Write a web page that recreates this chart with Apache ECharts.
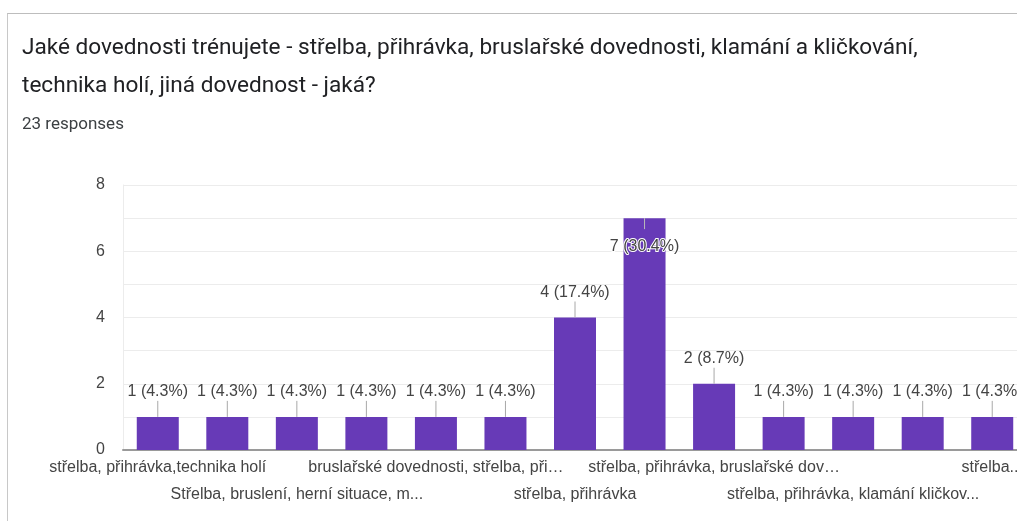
<!DOCTYPE html>
<html lang="cs">
<head>
<meta charset="utf-8">
<title>Jaké dovednosti trénujete</title>
<script src="https://cdn.jsdelivr.net/npm/echarts@6/dist/echarts.min.js"></script>
<style>
  html, body { margin: 0; padding: 0; background: #fff; overflow: hidden; }
  body { width: 1017px; height: 521px; position: relative; }
  #card {
    position: absolute; left: 7px; top: 13px; width: 1100px; height: 600px;
    border-left: 1px solid #c8c8c8; border-top: 1px solid #bdbdbd;
    box-sizing: border-box;
  }
  #chart { position: absolute; left: 0; top: 0; width: 1027px; height: 521px; }
</style>
</head>
<body>
<div id="card"></div>
<div id="chart"></div>
<script>
// Answers to the question, in the order the form lists them
const categories = [
  'střelba, přihrávka,technika holí',
  'střelba, technika holí',
  'Střelba, bruslení, herní situace, m...',
  'přihrávka, technika holí',
  'bruslařské dovednosti, střelba, při…',
  'střelba, bruslařské dovednosti',
  'střelba, přihrávka',
  'střelba, přihrávka, bruslařské dovednosti, klamání a kličkování, technika holí',
  'střelba, přihrávka, bruslařské dov…',
  'střelba, přihrávka, technika holí',
  'střelba, přihrávka, klamání kličkov...',
  'střelba, klamání a kličkování',
  'střelba...'
];
const responses = [1, 1, 1, 1, 1, 1, 4, 7, 2, 1, 1, 1, 1];
const yTicks = [0, 2, 4, 6, 8];

const titleText = 'Jaké dovednosti trénujete - střelba, přihrávka, bruslařské dovednosti, klamání a kličkování,\ntechnika holí, jiná dovednost - jaká?';
const subtitleText = '23 responses';

const total = responses.reduce((a, b) => a + b, 0);
const yMax = yTicks[yTicks.length - 1];
const barColor = '#673ab7';
const labelFont = { fontFamily: 'Liberation Sans, Arial, sans-serif', fontSize: 16, color: '#444' };

const labelText = v => v + ' (' + (Math.round(v / total * 1000) / 10) + '%)';

// Bars that reach the top of the scale carry their label inside
const barData = responses.map(v => {
  const inside = v > yMax - 1.5;
  return {
    value: v,
    label: inside
      ? { position: 'insideTop', distance: 19, textBorderColor: '#fff', textBorderWidth: 2 }
      : { position: 'top', distance: 16 }
  };
});

// Category labels alternate between two rows, every other category labelled
const rowAxis = (row) => ({
  type: 'category',
  data: categories,
  position: 'bottom',
  axisTick: { show: false },
  axisLine: row === 0
    ? { show: true, lineStyle: { color: '#9a9a9a', width: 2 } }
    : { show: false },
  splitLine: { show: false },
  axisLabel: {
    interval: (index) => index % 4 === row * 2,
    margin: row === 0 ? 9 : 36,
    lineHeight: 18,
    hideOverlap: false,
    ...labelFont
  }
});

const chart = echarts.init(document.getElementById('chart'), null, { renderer: 'canvas' });

chart.setOption({
  animation: false,
  title: [
    {
      text: titleText, left: 22, top: 29, padding: 0,
      textStyle: { fontFamily: 'Roboto, sans-serif', fontSize: 22.6, fontWeight: 'normal', color: '#202124', lineHeight: 38 }
    },
    {
      text: subtitleText, left: 22, top: 115, padding: 0,
      textStyle: { fontFamily: 'Roboto, sans-serif', fontSize: 17, fontWeight: 'normal', color: '#3c4043', lineHeight: 20 }
    }
  ],
  grid: { left: 123, right: 0, top: 185, bottom: 71, containLabel: false },
  xAxis: [rowAxis(0), rowAxis(1)],
  yAxis: {
    type: 'value',
    min: 0, max: yMax, interval: 1,
    axisLine: { show: true, lineStyle: { color: '#ececec' } },
    axisTick: { show: false },
    splitLine: { lineStyle: { color: '#ececec' } },
    axisLabel: {
      margin: 18,
      ...labelFont,
      formatter: v => (yTicks.includes(v) ? String(v) : '')
    }
  },
  series: [
    {
      type: 'bar',
      xAxisIndex: 0,
      data: barData,
      barWidth: 42,
      itemStyle: { color: barColor },
      label: {
        show: true,
        ...labelFont,
        lineHeight: 18,
        formatter: p => labelText(p.value)
      },
      z: 2
    },
    {
      // leader lines joining each value label to its bar
      type: 'custom',
      xAxisIndex: 0,
      data: responses.map((v, i) => [i, v]),
      z: 3,
      silent: true,
      renderItem: (params, api) => {
        const v = api.value(1);
        const p = api.coord([api.value(0), v]);
        const inside = v > yMax - 1.5;
        const end = inside ? p[1] + 11 : p[1] - 16;
        return {
          type: 'line',
          shape: { x1: p[0], y1: p[1], x2: p[0], y2: end },
          style: { stroke: inside ? '#b9b9b9' : '#a8a8a8', lineWidth: 1 }
        };
      }
    }
  ]
});
</script>
</body>
</html>
